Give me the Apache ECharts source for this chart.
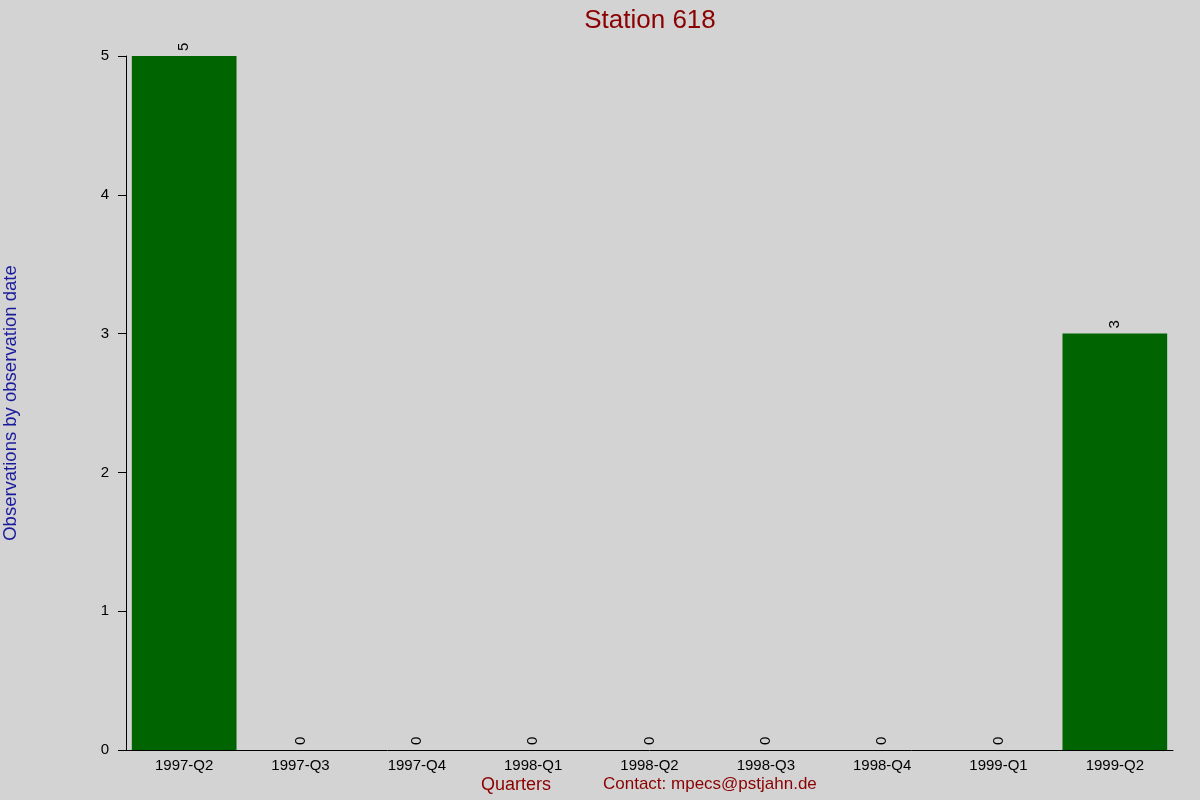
<!DOCTYPE html>
<html><head><meta charset="utf-8">
<script src="https://cdn.jsdelivr.net/npm/echarts@6/dist/echarts.min.js"></script>
<style>html,body{margin:0;padding:0;background:#d3d3d3;}#c{width:1200px;height:800px;}</style>
</head><body><div id="c"></div>
<script>
const categories = ['1997-Q2','1997-Q3','1997-Q4','1998-Q1','1998-Q2','1998-Q3','1998-Q4','1999-Q1','1999-Q2'];
const observations = [5,0,0,0,0,0,0,0,3];
const yTicks = [0,1,2,3,4,5];

const chart = echarts.init(document.getElementById('c'));
const font = 'Liberation Sans, Arial, sans-serif';
chart.setOption({
  backgroundColor: '#d3d3d3',
  animation: false,
  title: {
    text: 'Station 618', left: 645, top: 3, textAlign: 'center',
    textStyle: {color: '#8b0000', fontSize: 26, fontWeight: 'normal', fontFamily: font}
  },
  grid: {left: 126, right: 27, top: 56, bottom: 50, outerBoundsMode: 'none', containLabel: false},
  xAxis: {
    type: 'category', data: categories,
    axisLine: {lineStyle: {color: '#000', width: 1}},
    axisTick: {show: false},
    axisLabel: {color: '#000', fontSize: 15, fontFamily: font, margin: 8}
  },
  yAxis: {
    type: 'value', min: yTicks[0], max: yTicks[yTicks.length-1], interval: 1,
    name: 'Observations by observation date', nameLocation: 'middle', nameGap: 106,
    nameTextStyle: {color: '#1a1a9c', fontSize: 18.5, fontFamily: font},
    axisLine: {show: true, lineStyle: {color: '#000', width: 1}},
    axisTick: {show: true, length: 8, lineStyle: {color: '#000'}},
    axisLabel: {color: '#000', fontSize: 15, fontFamily: font, margin: 17},
    splitLine: {show: false}
  },
  series: [{
    type: 'bar', data: observations, barWidth: '90%',
    itemStyle: {color: '#006400'},
    label: {show: true, position: 'top', rotate: 90, align: 'left', verticalAlign: 'middle',
      distance: 5, color: '#000', fontSize: 15, fontFamily: font}
  }],
  graphic: [
    {type: 'text', left: 481, top: 776, style: {text: 'Quarters', fill: '#8b0000', fontSize: 18, fontFamily: font}},
    {type: 'text', left: 603, top: 776, style: {text: 'Contact: mpecs@pstjahn.de', fill: '#8b0000', fontSize: 17, fontFamily: font}}
  ]
});
</script></body></html>
